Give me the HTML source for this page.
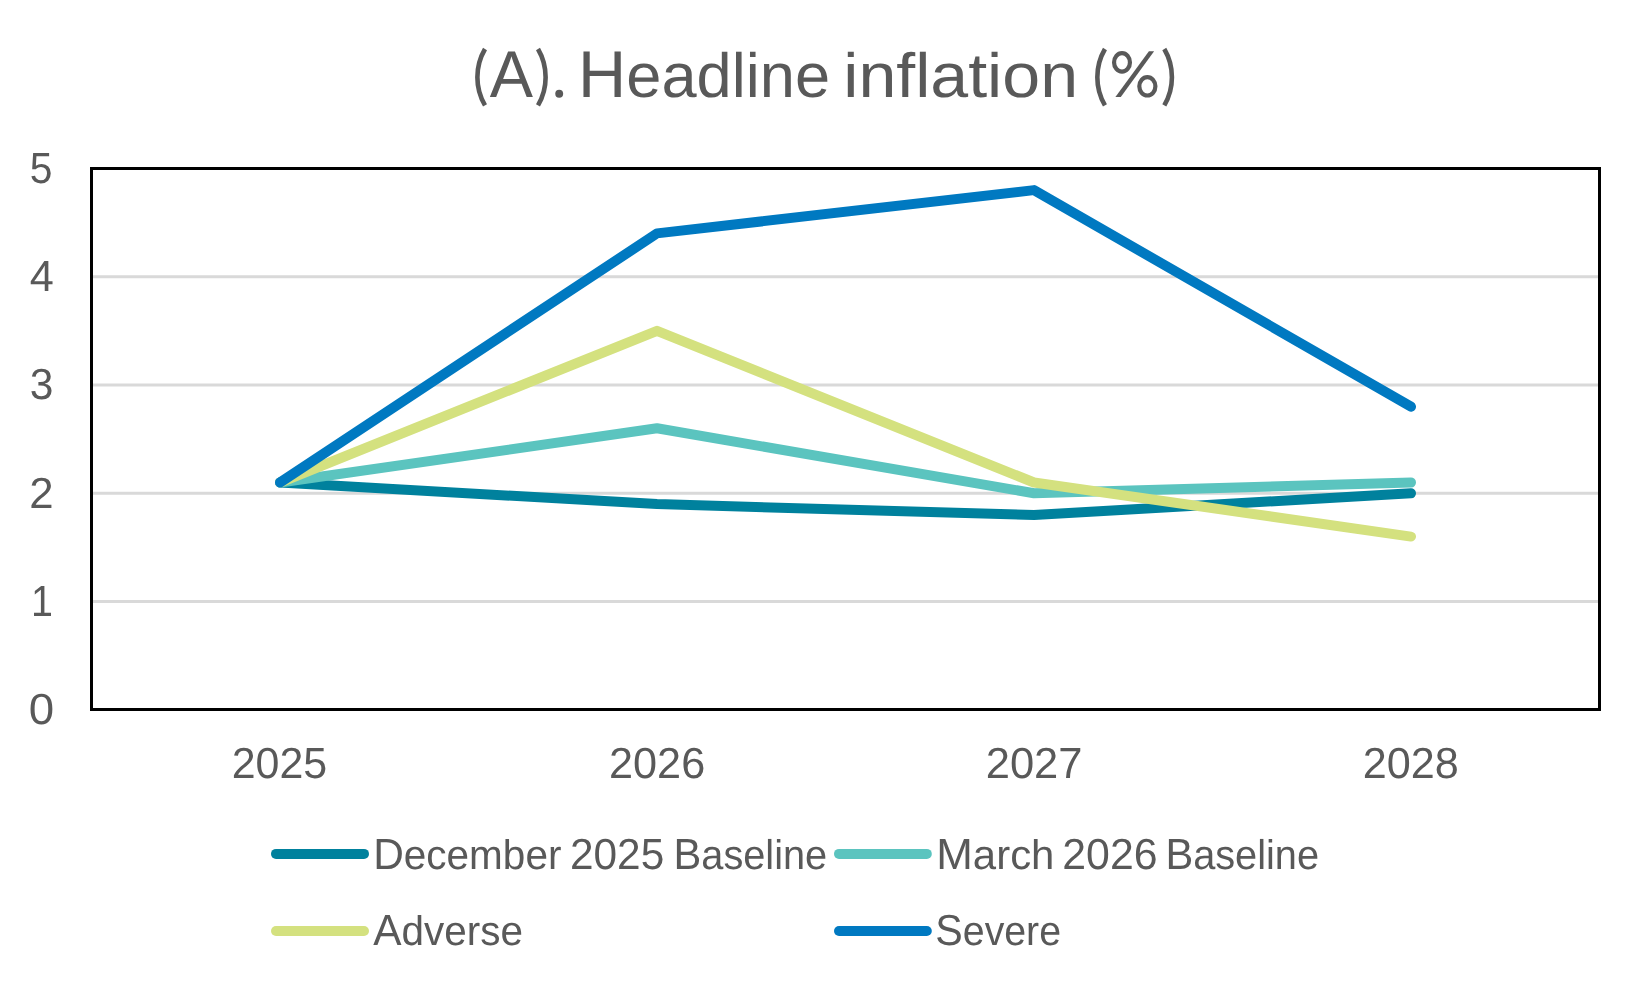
<!DOCTYPE html>
<html><head><meta charset="utf-8">
<style>
html,body{margin:0;padding:0;background:#fff;width:1650px;height:990px;overflow:hidden}
svg{display:block;will-change:transform}
text{font-family:"Liberation Sans",sans-serif;fill:#595959;text-rendering:geometricPrecision}
</style></head><body>
<svg width="1650" height="990" viewBox="0 0 1650 990">
<rect x="0" y="0" width="1650" height="990" fill="#fff"/>
<g>
<text id="tA" x="489.63" y="96.8" font-size="66" textLength="43.25" lengthAdjust="spacingAndGlyphs">A</text>
<g fill="none" stroke="#595959" stroke-width="4.6"><path d="M485.00,49.0 A56,56 0 0,0 485.00,105.4"/><path d="M538.00,49.0 A56,56 0 0,1 538.00,105.4"/><path d="M1104.95,49.0 A56,56 0 0,0 1104.95,105.4"/><path d="M1164.30,49.0 A56,56 0 0,1 1164.30,105.4"/></g>
<circle cx="559.2" cy="93.75" r="3.95" fill="#595959"/>
<text id="tt2" x="578.11" y="96.8" font-size="66" textLength="251.98" lengthAdjust="spacingAndGlyphs">H<tspan font-size="62.5">eadline</tspan></text>
<text id="tt3" x="843.28" y="96.8" font-size="66" textLength="234.76" lengthAdjust="spacingAndGlyphs"><tspan font-size="62.5">inflation</tspan></text>
<g fill="none" stroke="#595959" stroke-width="4.2"><ellipse cx="1122" cy="62.4" rx="7.95" ry="9.3"/><ellipse cx="1147.35" cy="86.3" rx="8.05" ry="9.2"/></g><polygon fill="#595959" points="1115.4,96.9 1120.8,96.9 1154.1,51.3 1148.9,51.3"/>
</g>
<g stroke="#d9d9d9" stroke-width="3">
<line x1="93" y1="276.8" x2="1598" y2="276.8"/>
<line x1="93" y1="385" x2="1598" y2="385"/>
<line x1="93" y1="493.3" x2="1598" y2="493.3"/>
<line x1="93" y1="601.5" x2="1598" y2="601.5"/>
</g>
<rect x="91.5" y="168.5" width="1508" height="541" fill="none" stroke="#000" stroke-width="3"/>
<g>
<text id="yl5" x="29.74" y="182.5" font-size="43.5" textLength="22.72" lengthAdjust="spacingAndGlyphs">5</text>
<text id="yl4" x="29.63" y="290.8" font-size="43.5" textLength="24.03" lengthAdjust="spacingAndGlyphs">4</text>
<text id="yl3" x="29.84" y="399.2" font-size="43.5" textLength="23.69" lengthAdjust="spacingAndGlyphs">3</text>
<text id="yl2" x="29.22" y="507.5" font-size="43.5" textLength="24.36" lengthAdjust="spacingAndGlyphs">2</text>
<text id="yl1" x="30.88" y="615.9" font-size="43.5" textLength="21.93" lengthAdjust="spacingAndGlyphs">1</text>
<text id="yl0" x="28.85" y="723.8" font-size="43.5" textLength="25.39" lengthAdjust="spacingAndGlyphs">0</text>
</g>
<g>
<text id="x2025" x="231.63" y="778.3" font-size="43.5" textLength="95.58" lengthAdjust="spacingAndGlyphs">2025</text>
<text id="x2026" x="608.97" y="778.3" font-size="43.5" textLength="96.22" lengthAdjust="spacingAndGlyphs">2026</text>
<text id="x2027" x="985.69" y="778.3" font-size="43.5" textLength="96.88" lengthAdjust="spacingAndGlyphs">2027</text>
<text id="x2028" x="1362.63" y="778.3" font-size="43.5" textLength="96.16" lengthAdjust="spacingAndGlyphs">2028</text>
</g>
<g fill="none" stroke-width="10" stroke-linecap="round" stroke-linejoin="round">
<polyline stroke="#00819d" points="280,482.5 657,504.1 1034,515.0 1411,493.3"/>
<polyline stroke="#5bc4bf" points="280,482.5 657,428.3 1034,493.3 1411,482.5"/>
<polyline stroke="#d4e17f" points="280,482.5 657,330.8 1034,482.5 1411,536.6"/>
<polyline stroke="#0079c1" points="280,482.5 657,233.4 1034,190.1 1411,406.7"/>
</g>
<g stroke-width="10" stroke-linecap="round">
<line x1="276" y1="853.9" x2="364" y2="853.9" stroke="#00819d"/>
<line x1="839" y1="853.9" x2="926.8" y2="853.9" stroke="#5bc4bf"/>
<line x1="276" y1="931" x2="364" y2="931" stroke="#d4e17f"/>
<line x1="839" y1="931" x2="926.8" y2="931" stroke="#0079c1"/>
</g>
<g>
<text id="ld1" x="373.16" y="868.8" font-size="43.5" textLength="188.26" lengthAdjust="spacingAndGlyphs">D<tspan font-size="41.5">ecember</tspan></text>
<text id="ld2" x="569.93" y="868.8" font-size="43.5" textLength="94.29" lengthAdjust="spacingAndGlyphs">2025</text>
<text id="ld3" x="673.54" y="868.8" font-size="43.5" textLength="153.65" lengthAdjust="spacingAndGlyphs">B<tspan font-size="41.5">aseline</tspan></text>
<text id="lm1" x="936.27" y="868.8" font-size="43.5" textLength="118.18" lengthAdjust="spacingAndGlyphs">M<tspan font-size="41.5">arch</tspan></text>
<text id="lm2" x="1062.27" y="868.8" font-size="43.5" textLength="95.25" lengthAdjust="spacingAndGlyphs">2026</text>
<text id="lm3" x="1165.38" y="868.8" font-size="43.5" textLength="153.66" lengthAdjust="spacingAndGlyphs">B<tspan font-size="41.5">aseline</tspan></text>
<text id="la" x="373.35" y="945.1" font-size="43.5" textLength="149.61" lengthAdjust="spacingAndGlyphs">A<tspan font-size="41.5">dverse</tspan></text>
<text id="ls" x="935.35" y="945.1" font-size="43.5" textLength="125.71" lengthAdjust="spacingAndGlyphs">S<tspan font-size="41.5">evere</tspan></text>
</g>
</svg>
</body></html>
